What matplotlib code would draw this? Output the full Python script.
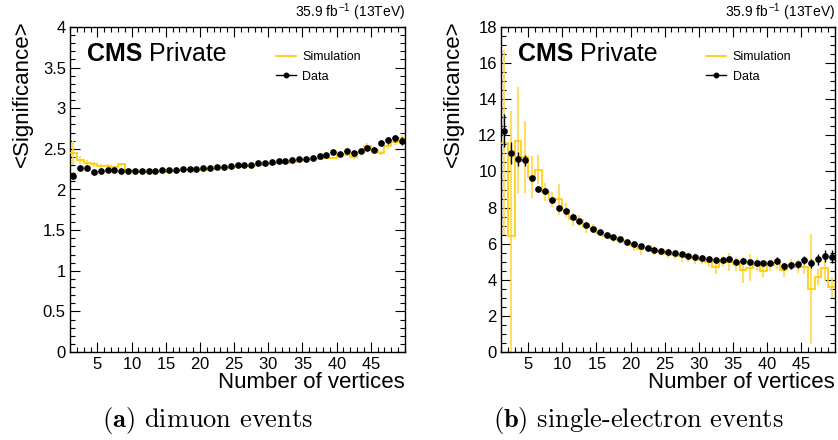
import numpy as np
import matplotlib
matplotlib.use("Agg")
import matplotlib.pyplot as plt
from matplotlib.lines import Line2D
from matplotlib.ticker import MultipleLocator, FixedLocator

plt.rcParams['font.family'] = ['Liberation Sans', 'DejaVu Sans']
plt.rcParams['font.serif'] = ['cmr10', 'DejaVu Serif']
plt.rcParams['mathtext.fontset'] = 'cm'
plt.rcParams['axes.formatter.use_mathtext'] = True

# ---------------- data ----------------
edges = np.arange(1, 51)           # 49 bins of width 1 (1..50)
x_ticks = [5, 10, 15, 20, 25, 30, 35, 40, 45]

# (a) dimuon events
mu_data = [2.17, 2.27, 2.265, 2.22, 2.225, 2.24, 2.237, 2.233, 2.222, 2.229,
           2.225, 2.225, 2.229, 2.235, 2.24, 2.245, 2.25, 2.254, 2.258, 2.262,
           2.266, 2.272, 2.276, 2.285, 2.30, 2.305, 2.307, 2.32, 2.323, 2.335,
           2.35, 2.348, 2.364, 2.37, 2.38, 2.393, 2.409, 2.426, 2.462, 2.438,
           2.479, 2.454, 2.475, 2.507, 2.491, 2.573, 2.606, 2.630, 2.601]
mu_data_err = [0.045, 0.025, 0.02, 0.015, 0.012, 0.012, 0.012, 0.012, 0.012, 0.012,
               0.012, 0.012, 0.012, 0.012, 0.012, 0.012, 0.012, 0.012, 0.012, 0.012,
               0.012, 0.012, 0.012, 0.012, 0.012, 0.012, 0.012, 0.012, 0.012, 0.012,
               0.015, 0.015, 0.015, 0.015, 0.015, 0.015, 0.015, 0.015, 0.018, 0.018,
               0.02, 0.02, 0.022, 0.025, 0.03, 0.035, 0.04, 0.045, 0.05]
mu_sim = [2.45, 2.36, 2.32, 2.31, 2.29, 2.29, 2.28, 2.31, 2.235, 2.225,
          2.215, 2.21, 2.215, 2.22, 2.225, 2.23, 2.235, 2.24, 2.245, 2.245,
          2.25, 2.255, 2.26, 2.265, 2.28, 2.285, 2.29, 2.30, 2.305, 2.315,
          2.325, 2.33, 2.34, 2.35, 2.365, 2.375, 2.38, 2.385, 2.39, 2.43,
          2.43, 2.40, 2.46, 2.54, 2.49, 2.45, 2.53, 2.58, 2.63]
mu_sim_err = [0.15, 0.05, 0.04, 0.03, 0.02, 0.02, 0.015, 0.015, 0.01, 0.01,
              0.01, 0.01, 0.01, 0.01, 0.01, 0.01, 0.01, 0.01, 0.01, 0.01,
              0.01, 0.01, 0.01, 0.01, 0.01, 0.01, 0.01, 0.01, 0.01, 0.01,
              0.012, 0.012, 0.012, 0.012, 0.012, 0.015, 0.015, 0.015, 0.015, 0.015,
              0.015, 0.02, 0.02, 0.03, 0.02, 0.025, 0.03, 0.035, 0.04]

# (b) single-electron events
el_data = [12.26, 11.04, 10.69, 10.61, 9.62, 9.04, 8.90, 8.42, 7.97, 7.81,
           7.48, 7.25, 7.03, 6.83, 6.63, 6.48, 6.35, 6.24, 6.09, 5.96,
           5.85, 5.78, 5.67, 5.59, 5.52, 5.46, 5.41, 5.33, 5.24, 5.22,
           5.13, 5.09, 5.09, 5.17, 4.98, 5.06, 5.00, 4.93, 4.91, 4.93,
           5.06, 4.74, 4.80, 4.85, 5.09, 4.91, 5.13, 5.32, 5.28]
el_data_err = [0.9, 0.6, 0.4, 0.3, 0.15, 0.15, 0.15, 0.12, 0.12, 0.12,
               0.1, 0.1, 0.1, 0.1, 0.1, 0.1, 0.1, 0.1, 0.1, 0.1,
               0.1, 0.1, 0.1, 0.1, 0.1, 0.1, 0.1, 0.1, 0.1, 0.1,
               0.12, 0.12, 0.12, 0.12, 0.12, 0.12, 0.12, 0.12, 0.12, 0.12,
               0.18, 0.18, 0.18, 0.18, 0.2, 0.25, 0.3, 0.35, 0.35]
el_sim = [11.6, 6.44, 11.7, 10.8, 9.7, 10.1, 8.85, 8.45, 8.45, 7.86,
          7.35, 7.3, 6.9, 6.85, 6.6, 6.45, 6.3, 6.2, 6.05, 5.85,
          5.7, 5.75, 5.6, 5.55, 5.45, 5.35, 5.3, 5.25, 5.2, 5.1,
          5.0, 4.72, 5.0, 5.0, 4.87, 4.54, 4.67, 4.83, 4.5, 4.8,
          4.93, 4.55, 4.83, 4.72, 4.72, 3.47, 4.17, 4.63, 3.58]
el_sim_err = [5.1, 6.9, 2.95, 2.0, 1.15, 0.8, 0.5, 0.4, 0.85, 0.4,
              0.35, 0.3, 0.3, 0.25, 0.2, 0.2, 0.2, 0.2, 0.2, 0.25,
              0.3, 0.2, 0.25, 0.2, 0.25, 0.2, 0.3, 0.25, 0.3, 0.25,
              0.3, 0.4, 0.3, 0.5, 0.4, 0.7, 0.75, 0.35, 0.35, 0.3,
              0.35, 0.4, 0.3, 0.35, 0.4, 3.05, 0.45, 0.7, 0.6]

panels = [
    dict(data=mu_data, derr=mu_data_err, sim=mu_sim, serr=mu_sim_err,
         ymax=4, ymajor=0.5, yminor=0.1,
         yticklabels=['0', '0.5', '1', '1.5', '2', '2.5', '3', '3.5', '4'],
         caption=r'$\mathbf{(a)}$ dimuon events'),
    dict(data=el_data, derr=el_data_err, sim=el_sim, serr=el_sim_err,
         ymax=18, ymajor=2, yminor=0.5,
         yticklabels=[str(v) for v in range(0, 19, 2)],
         caption=r'$\mathbf{(b)}$ single-electron events'),
]

YELLOW = '#FFCC00'
YELLOW_ERR = '#FFD84D'

W, H = 838, 440
fig = plt.figure(figsize=(W / 100, H / 100), dpi=100)

axes_px = [(70, 405), (501, 835)]
top_px, bot_px = 27, 352
centers = (edges[:-1] + edges[1:]) / 2

for p, (x0, x1) in zip(panels, axes_px):
    ax = fig.add_axes([x0 / W, 1 - bot_px / H, (x1 - x0) / W, (bot_px - top_px) / H])
    ax.set_xlim(1, 50)
    ax.set_ylim(0, p['ymax'])

    ax.errorbar(centers, p['sim'], yerr=p['serr'], fmt='none', ecolor=YELLOW_ERR,
                elinewidth=1.5, alpha=0.85, zorder=2)
    ax.stairs(p['sim'], edges, color=YELLOW, lw=1.2, baseline=None, zorder=3)
    ax.errorbar(centers, p['data'], yerr=p['derr'], fmt='o', color='black',
                ms=3.8, elinewidth=1.0, capsize=0, zorder=4)

    ax.xaxis.set_major_locator(FixedLocator(x_ticks))
    ax.xaxis.set_minor_locator(MultipleLocator(1))
    ax.yaxis.set_minor_locator(MultipleLocator(p['yminor']))
    ax.set_yticks(np.arange(0, p['ymax'] + 1e-9, p['ymajor']))
    ax.set_yticklabels(p['yticklabels'])
    ax.tick_params(which='both', direction='in', top=True, right=True,
                   labelsize=12, width=0.8, pad=3)
    ax.tick_params(which='major', length=7)
    ax.tick_params(which='minor', length=3.5)
    for s in ax.spines.values():
        s.set_linewidth(1.0)

    ax.text(1.0, 1.012, r'35.9 fb$^{\mathregular{-1}}$ (13TeV)', transform=ax.transAxes,
            ha='right', va='bottom', fontsize=10)
    ax.text(0.05, 0.917, 'CMS', transform=ax.transAxes, ha='left', va='center',
            fontsize=18, fontweight='bold')
    ax.text(0.236, 0.917, 'Private', transform=ax.transAxes, ha='left', va='center',
            fontsize=18)

    handles = [Line2D([], [], color=YELLOW, lw=1.2),
               Line2D([], [], color='black', marker='o', ms=3.2, lw=1.0)]
    ax.legend(handles, ['Simulation', 'Data'], loc='upper left',
              bbox_to_anchor=(0.615, 0.925), frameon=False, fontsize=9,
              handlelength=1.6, handletextpad=0.5, labelspacing=0.6,
              borderpad=0, borderaxespad=0)

    ax.text(1.0, -0.063, 'Number of vertices', transform=ax.transAxes,
            ha='right', va='top', fontsize=16)
    fig.text((x0 - 48) / W, 1 - 20 / H, '<Significance>', rotation=90,
             ha='center', va='top', fontsize=16)
    fig.text(((x0 + x1) / 2 - 30) / W, 1 - 420 / H, p['caption'], ha='center',
             va='center', fontsize=19, family='serif')

fig.savefig('out.png', dpi=100)
